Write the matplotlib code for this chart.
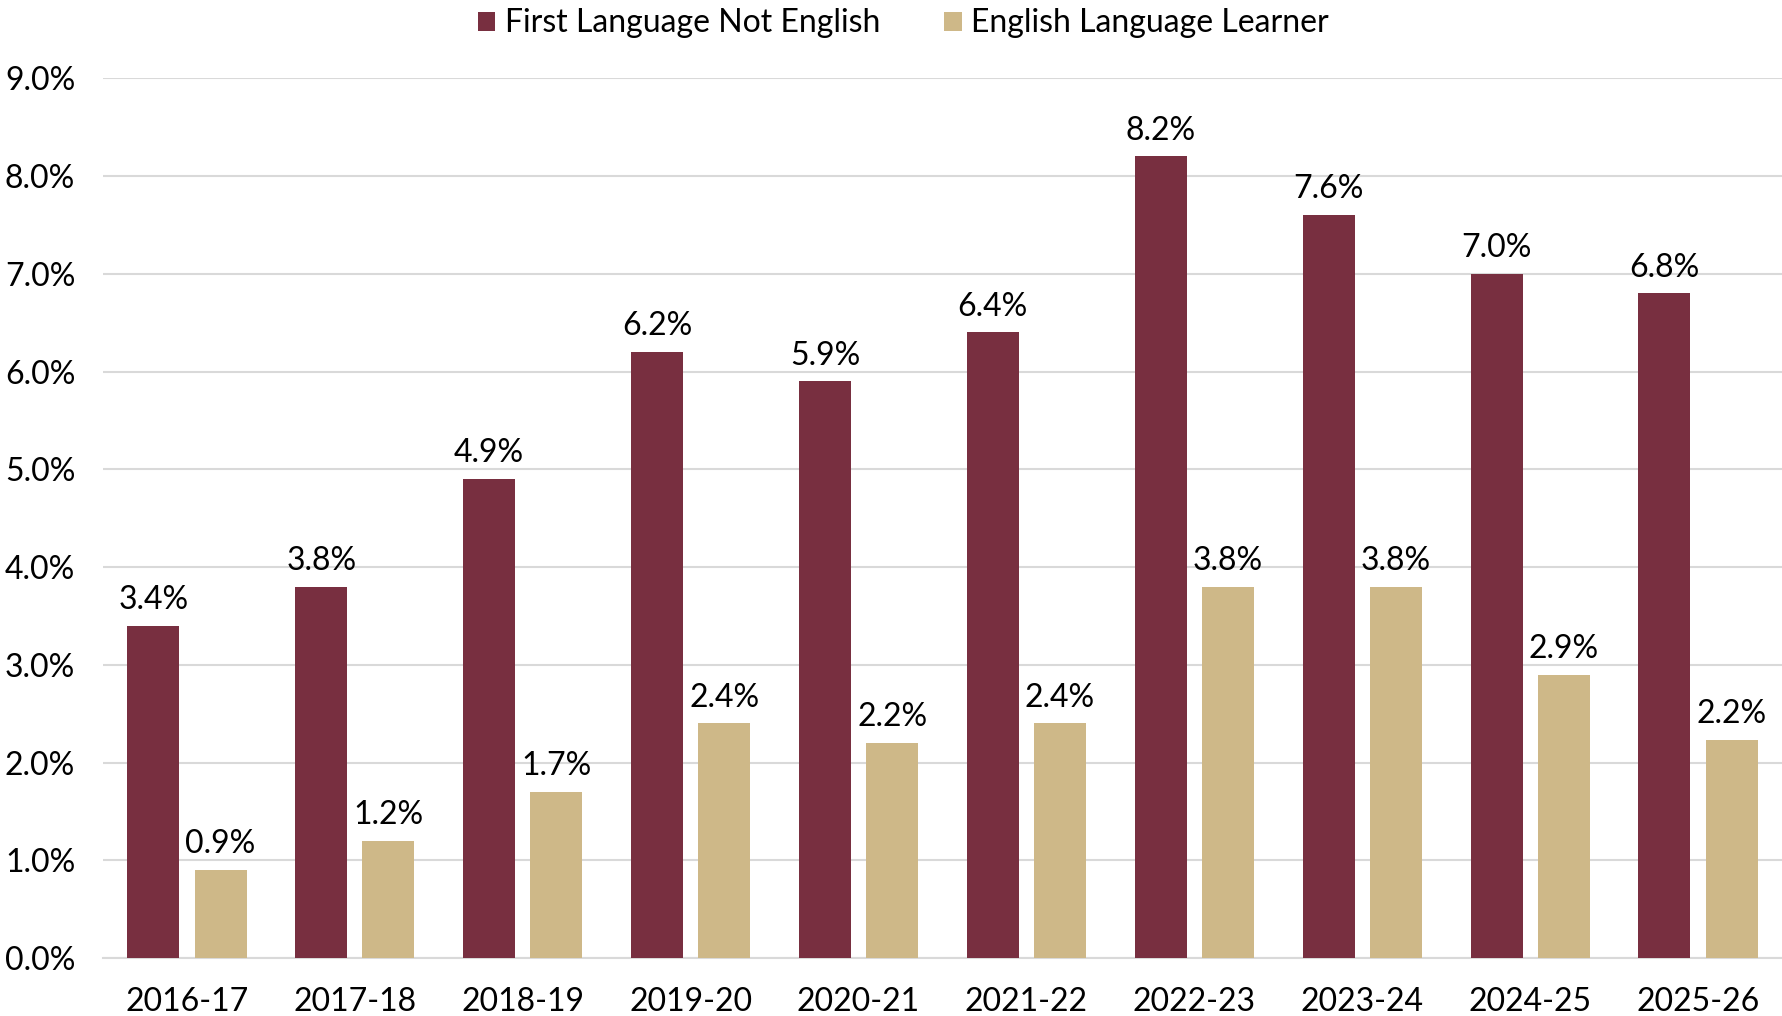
import matplotlib
import matplotlib.pyplot as plt
import numpy as np

matplotlib.use('Agg')

plt.rcParams['font.family'] = ['Lato', 'DejaVu Sans']

years = ['2016-17', '2017-18', '2018-19', '2019-20', '2020-21',
         '2021-22', '2022-23', '2023-24', '2024-25', '2025-26']
first_lang = [3.4, 3.8, 4.9, 6.2, 5.9, 6.4, 8.2, 7.6, 7.0, 6.8]
ell = [0.9, 1.2, 1.7, 2.4, 2.2, 2.4, 3.8, 3.8, 2.9, 2.23]

maroon = '#782F40'
gold = '#CEB888'
grid_color = '#D9D9D9'
fs = 23

fig = plt.figure(figsize=(17.82, 10.16), dpi=100)
ax = fig.add_axes([0.0578, 0.057, 0.9422, 0.866])

x = np.arange(len(years))
w = 0.31
off = 0.2
b1 = ax.bar(x - off, first_lang, w, color=maroon, label='First Language Not English', zorder=3)
b2 = ax.bar(x + off, ell, w, color=gold, label='English Language Learner', zorder=3)

for bars, vals in ((b1, first_lang), (b2, ell)):
    for rect, v in zip(bars, vals):
        ax.annotate(f'{v:.1f}%', (rect.get_x() + rect.get_width() / 2, v),
                    xytext=(0, 12), textcoords='offset points',
                    ha='center', va='baseline', fontsize=fs, color='black')

ax.set_xlim(-0.5, 9.5)
ax.set_ylim(0, 9)
ax.set_yticks(np.arange(0, 10, 1))
ax.set_yticklabels([f'{t:.1f}%' for t in range(10)], fontsize=fs)
ax.set_xticks(x)
ax.set_xticklabels(years, fontsize=fs)
ax.tick_params(axis='both', length=0)
ax.tick_params(axis='y', pad=20)
ax.tick_params(axis='x', pad=21)

ax.yaxis.grid(True, color=grid_color, linewidth=1.5, zorder=0)
for side in ('top', 'right', 'left'):
    ax.spines[side].set_visible(False)
ax.spines['bottom'].set_color(grid_color)
ax.spines['bottom'].set_linewidth(1.5)

fig.legend(loc='upper center', bbox_to_anchor=(0.507, 1.02), ncol=2,
           frameon=False, fontsize=fs, handlelength=0.55, handleheight=0.55,
           handletextpad=0.3, columnspacing=2.0)

fig.savefig('out.png', dpi=100)
